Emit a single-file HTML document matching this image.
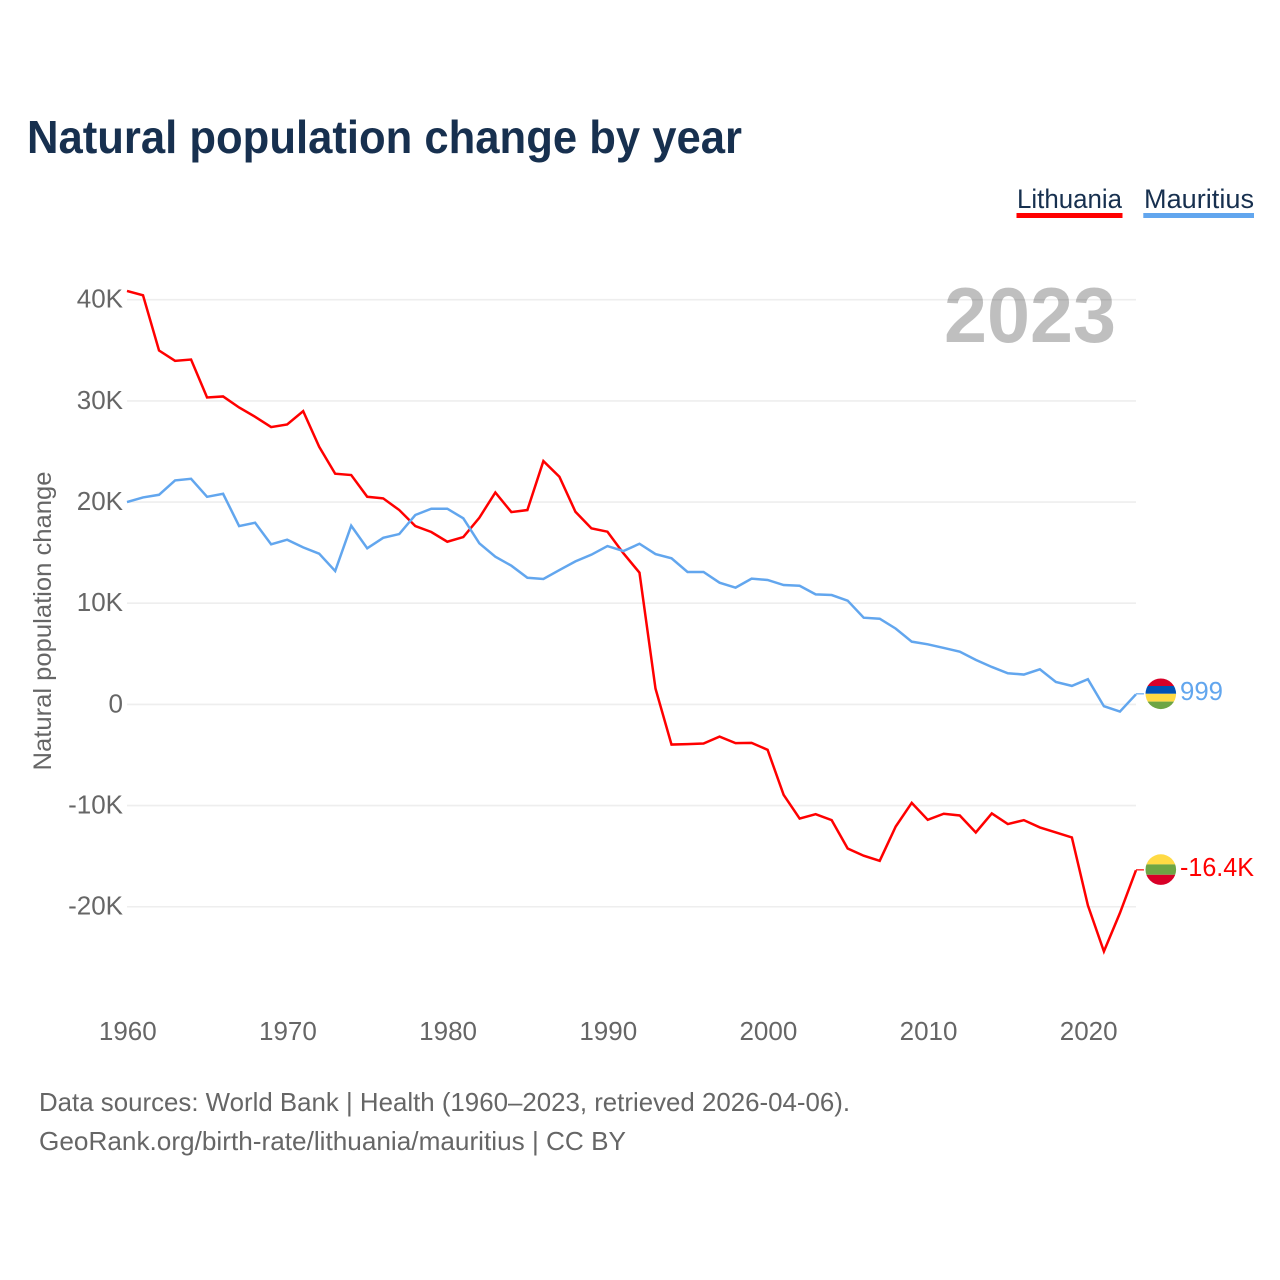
<!DOCTYPE html>
<html lang="en">
<head>
<meta charset="utf-8">
<title>Natural population change by year</title>
<style>
html,body{margin:0;padding:0;background:#fff;width:1280px;height:1280px;overflow:hidden}
svg{display:block}
text{font-family:"Liberation Sans",sans-serif}
</style>
</head>
<body>
<svg id="chart" xmlns="http://www.w3.org/2000/svg" width="1280" height="1280" viewBox="0 0 1280 1280">
  <defs>
    <clipPath id="flag-clip-top"><circle cx="1160.8" cy="693.8" r="15.3"/></clipPath>
    <clipPath id="flag-clip-bottom"><circle cx="1160.8" cy="869.6" r="15.3"/></clipPath>
  </defs>
  <text x="27" y="153" font-size="46" font-weight="700" fill="#17304f" textLength="715" lengthAdjust="spacingAndGlyphs">Natural population change by year</text>

  <g>
    <text x="1017" y="208" font-size="27" fill="#17304f" textLength="105" lengthAdjust="spacingAndGlyphs">Lithuania</text>
    <rect x="1016.5" y="213" width="106" height="5" fill="#ff0000"/>
  </g>
  <g>
    <text x="1144" y="208" font-size="27" fill="#17304f" textLength="110" lengthAdjust="spacingAndGlyphs">Mauritius</text>
    <rect x="1143.3" y="213" width="110.7" height="5" fill="#62a6ee"/>
  </g>

  <g id="grid"></g>
  <text x="1030" y="342" text-anchor="middle" font-size="78" font-weight="700" fill="#000" fill-opacity="0.25" textLength="172" lengthAdjust="spacingAndGlyphs">2023</text>
  <g id="y-axis"></g>
  <g id="x-axis"></g>
  <text transform="translate(51,621) rotate(-90)" text-anchor="middle" font-size="25" fill="#666666" textLength="299" lengthAdjust="spacingAndGlyphs">Natural population change</text>
  <g id="series"></g>

  <g id="flag-lithuania" clip-path="url(#flag-clip-bottom)">
    <rect x="1145" y="854" width="32" height="10.4" fill="#ffda44"/>
    <rect x="1145" y="864.4" width="32" height="10.4" fill="#6da544"/>
    <rect x="1145" y="874.8" width="32" height="10.6" fill="#d80027"/>
  </g>
  <g id="flag-mauritius" clip-path="url(#flag-clip-top)">
    <rect x="1145" y="678" width="32" height="8" fill="#d80027"/>
    <rect x="1145" y="686" width="32" height="7.8" fill="#0052b4"/>
    <rect x="1145" y="693.8" width="32" height="7.8" fill="#ffda44"/>
    <rect x="1145" y="701.6" width="32" height="8" fill="#6da544"/>
  </g>
  <g id="end-labels"></g>

  <text x="39" y="1111" font-size="26" fill="#666666" textLength="811" lengthAdjust="spacingAndGlyphs">Data sources: World Bank | Health (1960–2023, retrieved 2026-04-06).</text>
  <text x="39" y="1150" font-size="26" fill="#666666" textLength="587" lengthAdjust="spacingAndGlyphs">GeoRank.org/birth-rate/lithuania/mauritius | CC BY</text>
</svg>
<script>
var startYear = 1960;
var lithuaniaValues = [
  40.87, 40.44, 34.98, 33.96, 34.09, 30.34, 30.44, 29.35, 28.43, 27.41,
  27.67, 28.99, 25.46, 22.80, 22.67, 20.52, 20.36, 19.21, 17.63, 17.04,
  16.08, 16.54, 18.45, 20.95, 19.01, 19.21, 24.05, 22.50, 19.04, 17.40,
  17.07, 14.93, 13.02, 1.56, -3.97, -3.93, -3.87, -3.18, -3.83, -3.80,
  -4.49, -8.94, -11.28, -10.85, -11.44, -14.24, -14.96, -15.46, -12.07, -9.73,
  -11.41, -10.81, -10.98, -12.66, -10.78, -11.83, -11.44, -12.16, -12.66, -13.15,
  -19.87, -24.41, -20.62, -16.40
];
var mauritiusValues = [
  20.00, 20.46, 20.72, 22.14, 22.30, 20.52, 20.82, 17.63, 17.96, 15.82,
  16.28, 15.52, 14.90, 13.18, 17.66, 15.43, 16.47, 16.84, 18.72, 19.34,
  19.34, 18.39, 15.92, 14.60, 13.71, 12.52, 12.40, 13.28, 14.14, 14.80,
  15.65, 15.16, 15.88, 14.86, 14.44, 13.09, 13.09, 12.03, 11.54, 12.43,
  12.30, 11.80, 11.73, 10.88, 10.81, 10.25, 8.57, 8.47, 7.49, 6.20,
  5.94, 5.58, 5.21, 4.40, 3.70, 3.08, 2.95, 3.47, 2.22, 1.83,
  2.49, -0.18, -0.71, 0.999
];
var yTickValues = [40, 30, 20, 10, 0, -10, -20];
var xTickYears = [1960, 1970, 1980, 1990, 2000, 2010, 2020];
var lithuaniaEndLabel = '-16.4K';
var mauritiusEndLabel = '999';

var SVG_NS = 'http://www.w3.org/2000/svg';
function xScale(year) { return 127 + (year - 1960) * 16.015; }
function yScale(v) { return 704.4 - v * 10.117; }
function yTickText(v) { return v === 0 ? '0' : v + 'K'; }
function make(tag, parent) {
  var el = document.createElementNS(SVG_NS, tag);
  parent.appendChild(el);
  return el;
}

var grid = document.getElementById('grid');
var yAxis = document.getElementById('y-axis');
var xAxis = document.getElementById('x-axis');
var series = document.getElementById('series');
var endLabels = document.getElementById('end-labels');

yTickValues.forEach(function (v) {
  var line = make('line', grid);
  
  
  line.setAttribute('x1', 127);
  line.setAttribute('x2', 1136);
  line.setAttribute('y1', yScale(v));
  line.setAttribute('y2', yScale(v));
  line.setAttribute('stroke', '#eeeeee');
  line.setAttribute('stroke-width', '1.6');

  var label = make('text', yAxis);
  
  
  label.setAttribute('x', 123);
  label.setAttribute('y', yScale(v) + 8);
  label.setAttribute('text-anchor', 'end');
  label.setAttribute('font-size', '26');
  label.setAttribute('fill', '#666666');
  label.textContent = yTickText(v);
});

xTickYears.forEach(function (year) {
  var label = make('text', xAxis);
  
  
  label.setAttribute('x', xScale(year) + 0.8);
  label.setAttribute('y', 1040);
  label.setAttribute('text-anchor', 'middle');
  label.setAttribute('font-size', '26');
  label.setAttribute('fill', '#666666');
  label.textContent = year;
});

function drawSeries(values, color, name, endText, endTextWidth) {
  var pts = values.map(function (v, i) {
    return xScale(startYear + i).toFixed(2) + ',' + yScale(v).toFixed(2);
  }).join(' ');
  var lastX = xScale(startYear + values.length - 1);
  var lastY = yScale(values[values.length - 1]);

  var link = make('line', series);
  
  
  link.setAttribute('x1', lastX);
  link.setAttribute('x2', lastX + 8);
  link.setAttribute('y1', lastY - 0.5);
  link.setAttribute('y2', lastY - 0.5);
  link.setAttribute('stroke', color);
  link.setAttribute('stroke-width', '1.5');
  link.setAttribute('stroke-opacity', '0.8');

  var line = make('polyline', series);
  
  
  line.setAttribute('points', pts);
  line.setAttribute('fill', 'none');
  line.setAttribute('stroke', color);
  line.setAttribute('stroke-width', '2.5');
  line.setAttribute('stroke-linejoin', 'miter');

  var label = make('text', endLabels);
  
  
  label.setAttribute('x', 1180);
  label.setAttribute('y', lastY + 5.5);
  label.setAttribute('font-size', '26');
  label.setAttribute('fill', color);
  label.setAttribute('textLength', endTextWidth);
  label.setAttribute('lengthAdjust', 'spacingAndGlyphs');
  label.textContent = endText;
}

drawSeries(lithuaniaValues, '#ff0000', 'lithuania', lithuaniaEndLabel, 74);
drawSeries(mauritiusValues, '#62a6ee', 'mauritius', mauritiusEndLabel, 43);
</script>
</body>
</html>
